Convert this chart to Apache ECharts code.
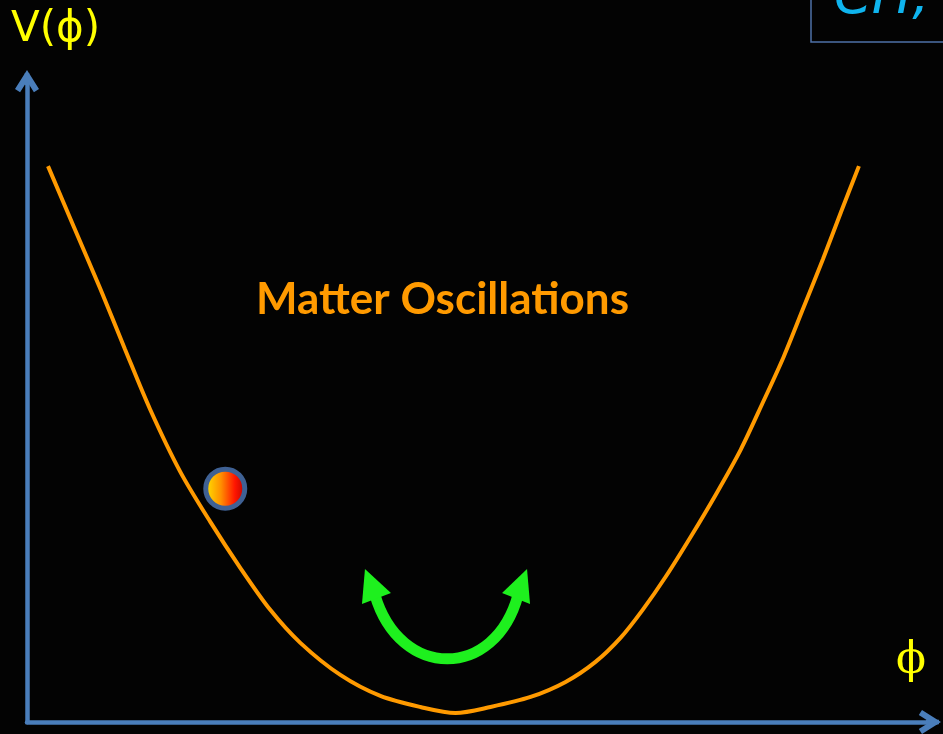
<!DOCTYPE html>
<html><head><meta charset="utf-8">
<script src="https://cdn.jsdelivr.net/npm/echarts@6/dist/echarts.min.js"></script>
<style>html,body{margin:0;padding:0;background:#000;}#c{width:943px;height:734px;}</style>
</head><body><div id="c"></div>
<script>
// potential curve V(phi), phi and V on 0..100 scales
const phiValues = [2.31, 5.17, 8.04, 10.79, 13.55, 16.85, 20.15, 23.46, 26.76, 30.07, 34.47, 38.88, 43.28, 47.14,
  50.99, 55.40, 59.25, 62.54, 65.29, 67.73, 70.26, 73.02, 75.77, 78.52, 80.95, 83.26, 85.35, 87.56, 89.54, 91.52];
const potentialValues = [86.18, 76.71, 67.24, 57.76, 48.45, 38.82, 31.06, 23.91, 17.39, 12.27, 7.30, 4.04, 2.33, 1.40,
  2.33, 3.88, 6.21, 9.32, 13.04, 17.39, 22.52, 28.73, 35.25, 42.24, 49.53, 56.68, 63.98, 71.74, 79.04, 86.18];
const ballPoint = [21.81, 36.18];
// green oscillation arrow (data coords)
const arrowPath = [[38.28, 19.69], [41.03, 6.5], [51.49, 6.5], [54.02, 19.69]];
const arrowHeadLeft = [[37.18, 23.72], [36.85, 18.29], [40.04, 20.0]];
const arrowHeadRight = [[55.01, 23.72], [52.26, 20.0], [55.34, 18.29]];
const labelText = 'Matter Oscillations';
const yName = 'V(ϕ)';
const xName = 'ϕ';
const boxText = 'CH,';

const chart = echarts.init(document.getElementById('c'));
const curve = phiValues.map((x, i) => [x, potentialValues[i]]);
const axisColor = '#4a7ebb';
chart.setOption({
  backgroundColor: '#030303',
  animation: false,
  grid: {left: 27, right: 7, top: 77, bottom: 12},
  xAxis: {type: 'value', min: 0, max: 100,
    axisLine: {lineStyle: {color: axisColor, width: 4.5}},
    axisTick: {show: false}, axisLabel: {show: false}, splitLine: {show: false}},
  yAxis: {type: 'value', min: 0, max: 100,
    axisLine: {show: true, lineStyle: {color: axisColor, width: 4.5}},
    axisTick: {show: false}, axisLabel: {show: false}, splitLine: {show: false}},
  series: [
    {type: 'line', data: curve, smooth: 0.3, symbol: 'none', lineStyle: {color: '#ff9a00', width: 4}, z: 3},
    {type: 'scatter', data: [ballPoint], symbolSize: 39, z: 5,
      itemStyle: {opacity: 1, borderColor: '#3f6194', borderWidth: 5,
        color: new echarts.graphic.LinearGradient(0, 0, 1, 0, [
          {offset: 0, color: '#ffee00'}, {offset: 0.4, color: '#ff9000'}, {offset: 0.72, color: '#ff1500'}, {offset: 1, color: '#b00000'}])}}
  ]
});

function px(p) { return chart.convertToPixel({gridIndex: 0}, p); }
function draw() {
  const a = arrowPath.map(px);
  const hl = arrowHeadLeft.map(px), hr = arrowHeadRight.map(px);
  const yEnd = px([0, 100]), xEnd = px([100, 0]);
  const green = '#1ef01e';
  // thick chevron arrowheads (tip at origin, pointing up)
  const chev = [[0, 0], [12, 19], [6.9, 22.2], [0, 11.2], [-6.9, 22.2], [-12, 19]];
  const upTip = [yEnd[0], yEnd[1] - 7];
  const rightTip = [xEnd[0] + 5, xEnd[1]];
  const upPts = chev.map(p => [upTip[0] + p[0], upTip[1] + p[1]]);
  const rightPts = chev.map(p => [rightTip[0] - p[1], rightTip[1] + p[0]]);
  chart.setOption({graphic: [
    {type: 'rect', shape: {x: yEnd[0] - 2.25, y: upTip[1] + 3, width: 4.5, height: 12}, style: {fill: axisColor}, z: 9},
    {type: 'rect', shape: {x: xEnd[0] - 10, y: xEnd[1] - 2.25, width: 13, height: 4.5}, style: {fill: axisColor}, z: 9},
    {type: 'polygon', shape: {points: upPts}, style: {fill: axisColor}, z: 9},
    {type: 'polygon', shape: {points: rightPts}, style: {fill: axisColor}, z: 9},
    {type: 'bezierCurve', shape: {x1: a[0][0], y1: a[0][1], cpx1: a[1][0], cpy1: a[1][1], cpx2: a[2][0], cpy2: a[2][1], x2: a[3][0], y2: a[3][1]},
      style: {stroke: green, lineWidth: 11, fill: null}, z: 10},
    {type: 'polygon', shape: {points: hl}, style: {fill: green}, z: 10},
    {type: 'polygon', shape: {points: hr}, style: {fill: green}, z: 10},
    {type: 'text', left: 256, top: 278, style: {text: labelText, fill: '#ff9a00', font: 'bold 44px Lato, "Open Sans", sans-serif'}, z: 10},
    {type: 'text', left: 11, top: 9, style: {text: yName, fill: '#ffff00', font: '42px "DejaVu Sans", sans-serif'}, z: 10},
    {type: 'text', left: 896, top: 640, style: {text: xName, fill: '#ffff00', font: '44px "DejaVu Serif", serif'}, z: 10},
    {type: 'rect', shape: {x: 811, y: -5, width: 140, height: 47}, style: {stroke: '#4f72a8', lineWidth: 1.5, fill: null}, z: 10},
    {type: 'text', left: 834, top: -28, style: {text: boxText, fill: '#0fb4ee', font: 'italic 54px "DejaVu Sans", sans-serif'}, z: 10}
  ]});
}
draw();
</script></body></html>
